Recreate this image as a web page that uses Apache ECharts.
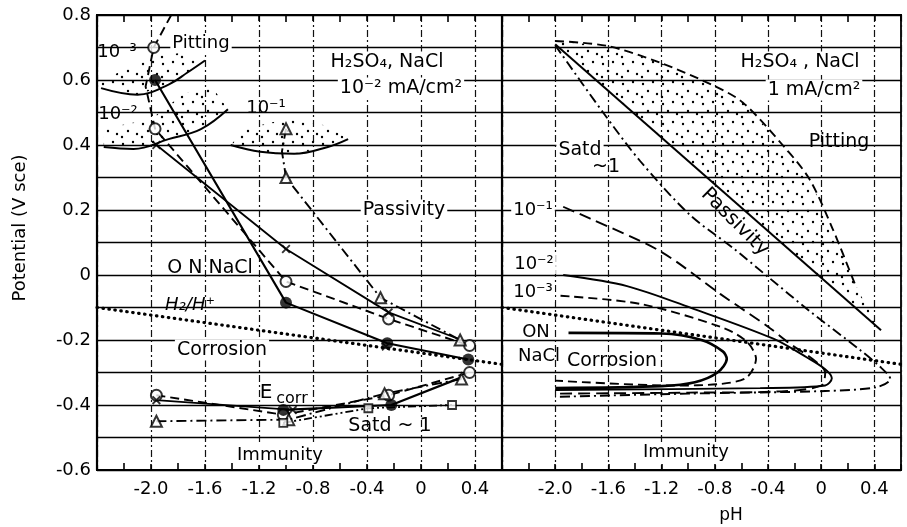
<!DOCTYPE html>
<html><head><meta charset="utf-8">
<script src="https://cdn.jsdelivr.net/npm/echarts@6/dist/echarts.min.js"></script>
<style>html,body{margin:0;padding:0;background:#fff}#c{width:907px;height:527px}</style>
</head><body><div id="c"></div>
<script>
// ---------- tick labels ----------
const xTicks = [-2.0, -1.6, -1.2, -0.8, -0.4, 0, 0.4];
const yTicks = [-0.6, -0.4, -0.2, 0, 0.2, 0.4, 0.6, 0.8];

// ---------- LEFT PANEL (10^-2 mA/cm2) ----------
// pitting-potential curves
const pitOpenLine   = [[-1.85,0.80],[-1.98,0.70],[-2.04,0.58],[-1.97,0.45],[-1.0,-0.02],[-0.24,-0.135],[0.36,-0.217]];
const pitFilledLine = [[-1.97,0.60],[-1.0,-0.085],[-0.25,-0.21],[0.35,-0.26]];
const pitCrossLine  = [[-1.96,0.40],[-1.0,0.08],[-0.24,-0.115],[0.30,-0.20]];
const pitTriLine    = [[-1.0,0.45],[-1.03,0.38],[-1.0,0.30],[-0.30,-0.07],[0.29,-0.20]];
// corrosion-potential curves
const ecorrOpenLine   = [[-1.96,-0.37],[-1.02,-0.43],[-0.24,-0.37],[0.36,-0.30]];
const ecorrCrossLine  = [[-1.96,-0.385],[-0.95,-0.415]];
const ecorrFilledLine = [[-1.02,-0.415],[-0.22,-0.40],[0.30,-0.315]];
const ecorrTriLine    = [[-1.96,-0.45],[-0.98,-0.445],[-0.27,-0.365],[0.30,-0.32]];
const ecorrSquareLine = [[-1.02,-0.455],[-0.39,-0.41],[0.23,-0.40]];
// measured points
const openCircles   = [[-1.98,0.70],[-1.97,0.45],[-1.0,-0.02],[-0.24,-0.135],[0.36,-0.217],[-1.96,-0.37],[-1.02,-0.43],[-0.24,-0.37],[0.36,-0.30]];
const filledCircles = [[-1.97,0.60],[-1.0,-0.085],[-0.25,-0.21],[0.35,-0.26],[-1.02,-0.415],[-0.22,-0.40]];
const crosses       = [[-1.96,0.40],[-1.0,0.08],[-0.24,-0.115],[-0.26,-0.22],[-1.96,-0.385],[-0.95,-0.415]];
const triangles     = [[-1.0,0.45],[-1.0,0.30],[-0.30,-0.07],[0.29,-0.20],[-1.96,-0.45],[-0.98,-0.445],[-0.27,-0.365],[0.30,-0.32]];
const squares       = [[-1.02,-0.455],[-0.39,-0.41],[0.23,-0.40]];
// pitting arcs (10^-3, 10^-2, 10^-1 N NaCl)
const arc3 = [[-2.37,0.575],[-2.1,0.555],[-1.87,0.586],[-1.73,0.623],[-1.6,0.66]];
const arc2 = [[-2.35,0.394],[-2.13,0.388],[-1.87,0.418],[-1.63,0.449],[-1.43,0.51]];
const arc1 = [[-1.41,0.40],[-1.19,0.379],[-0.94,0.373],[-0.69,0.394],[-0.54,0.418]];
const shade3 = [[-2.37,0.575],[-2.1,0.555],[-1.87,0.586],[-1.73,0.623],[-1.6,0.66],[-1.75,0.685],[-1.95,0.675],[-2.2,0.63],[-2.37,0.60]];
const shade2 = [[-2.35,0.394],[-2.13,0.388],[-1.87,0.418],[-1.63,0.449],[-1.43,0.51],[-1.55,0.58],[-1.75,0.56],[-2.0,0.48],[-2.35,0.45]];
const shade1 = [[-1.41,0.40],[-1.19,0.379],[-0.94,0.373],[-0.69,0.394],[-0.54,0.418],[-0.7,0.46],[-1.0,0.48],[-1.3,0.45]];

// ---------- RIGHT PANEL (1 mA/cm2) ----------
const passLine    = [[-2.0,0.71],[0.45,-0.17]];
const pitBoundary = [[-2.0,0.72],[-1.61,0.705],[-1.21,0.653],[-0.81,0.583],[-0.59,0.531],[-0.29,0.40],[-0.09,0.296],[0.085,0.143],[0.265,-0.04]];
const satdCurve   = [[-2.0,0.707],[-1.64,0.50],[-1.36,0.35],[-0.99,0.186],[-0.66,0.082],[-0.39,-0.009],[-0.09,-0.11],[0.29,-0.23],[0.45,-0.285],[0.52,-0.32],[0.42,-0.345],[0.03,-0.357],[-1.0,-0.365],[-2.0,-0.375]];
const curve1      = [[-1.94,0.21],[-1.74,0.174],[-1.21,0.073],[-0.76,-0.058],[-0.39,-0.162],[-0.24,-0.21],[-0.06,-0.26],[0.03,-0.30],[0.0,-0.34],[-0.3,-0.358],[-1.0,-0.362],[-2.0,-0.365]];
const curve2      = [[-1.94,0.0],[-1.46,-0.034],[-0.96,-0.104],[-0.36,-0.196],[-0.11,-0.253],[0.03,-0.29],[0.08,-0.318],[0.03,-0.34],[-0.46,-0.348],[-2.0,-0.354]];
const curve3      = [[-1.96,-0.064],[-1.36,-0.089],[-0.74,-0.162],[-0.56,-0.205],[-0.49,-0.258],[-0.56,-0.315],[-0.75,-0.335],[-1.11,-0.34],[-2.0,-0.325]];
const curve0      = [[-1.9,-0.178],[-1.2,-0.18],[-0.9,-0.2],[-0.74,-0.235],[-0.71,-0.258],[-0.78,-0.30],[-0.95,-0.33],[-1.2,-0.342],[-2.0,-0.348]];
const pitShadeR   = [[-2.0,0.72],[-1.61,0.705],[-1.21,0.653],[-0.81,0.583],[-0.59,0.531],[-0.29,0.40],[-0.09,0.296],[0.085,0.143],[0.265,-0.04],[0.45,-0.17],[-2.0,0.71]];

// ---------- both panels ----------
const h2Line = [[-2.4,-0.10],[0.6,-0.275]];

// ================= rendering =================
const FONT = '"DejaVu Sans", "Liberation Sans", sans-serif';
const LS = {solid:'solid', dash:[9,5], dashDot:[10,4,2,4], dashDotDot:[8,3,2,3,2,3], longDash:[12,6], dot:[0.5,5.5]};

function dotPattern(){
  const c=document.createElement('canvas'); c.width=20; c.height=20;
  const g=c.getContext('2d'); g.fillStyle='#000';
  [[3,4],[13,2],[8,11],[17,14],[2,17]].forEach(p=>{g.beginPath();g.arc(p[0],p[1],1.2,0,Math.PI*2);g.fill();});
  return c;
}
const pattern = dotPattern();

function line(data, g, type, width, smooth){
  return {type:'line', xAxisIndex:g, yAxisIndex:g, data, symbol:'none', smooth: smooth||false,
    lineStyle:{color:'#000', width: width||1.9, type, cap: type===LS.dot?'round':'butt'}, z:3, silent:true, animation:false};
}
function marks(data, g, kind){
  const s={type:'scatter', xAxisIndex:g, yAxisIndex:g, data, z:6, silent:true, animation:false};
  if(kind==='open'){s.symbol='circle';s.symbolSize=11;s.itemStyle={color:'#fff',borderColor:'#000',borderWidth:2};}
  if(kind==='filled'){s.symbol='circle';s.symbolSize=12;s.itemStyle={color:'#000'};}
  if(kind==='tri'){s.symbol='triangle';s.symbolSize=11;s.itemStyle={color:'#fff',borderColor:'#000',borderWidth:2};}
  if(kind==='square'){s.symbol='rect';s.symbolSize=8;s.itemStyle={color:'#fff',borderColor:'#000',borderWidth:1.8};}
  if(kind==='cross'){s.symbol='path://M0,1.5L1.5,0L5,3.5L8.5,0L10,1.5L6.5,5L10,8.5L8.5,10L5,6.5L1.5,10L0,8.5L3.5,5Z';s.symbolSize=9;s.itemStyle={color:'#000'};}
  return s;
}
function shade(poly, g){
  return {type:'custom', xAxisIndex:g, yAxisIndex:g, data:[poly[0]], z:1, silent:true, animation:false,
    renderItem:(p,api)=>({type:'polygon', shape:{points: poly.map(q=>api.coord(q))}, style:{fill:{image:pattern, repeat:'repeat'}}})};
}
function fmtX(v){ const t=xTicks.find(t=>Math.abs(t-v)<1e-6); return t===undefined?'':(t===0?'0':t.toFixed(1)); }
function fmtY(v){ const t=yTicks.find(t=>Math.abs(t-v)<1e-6); return t===undefined?'':(t===0?'0':t.toFixed(1)); }

function xAxis(g, pos){
  return {gridIndex:g, type:'value', min:-2.4, max:0.6, interval:0.4, position:pos,
    axisLine:{show:true, onZero:false, lineStyle:{color:'#000', width:2.2}},
    axisTick:{show:true, inside:true, length:6, lineStyle:{color:'#000',width:1.6}},
    minorTick:{show:true, splitNumber:2, length:7, lineStyle:{color:'#000',width:1.6}},
    axisLabel:{show:pos==='bottom', formatter:fmtX, color:'#000', fontSize:18, fontFamily:FONT, margin:10, showMinLabel:false},
    splitLine:{show:pos==='bottom', lineStyle:{color:'#111', width:1.2, type:[7,3,2,3]}}};
}
function yAxis(g){
  return {gridIndex:g, type:'value', min:-0.6, max:0.8, interval:0.2,
    axisLine:{show:true, onZero:false, lineStyle:{color:'#000', width:2.2}},
    axisTick:{show:false}, minorTick:{show:false, splitNumber:2},
    axisLabel:{show:g===0, formatter:fmtY, color:'#000', fontSize:18, fontFamily:FONT, margin:6},
    splitLine:{show:true, lineStyle:{color:'#000', width:1.4}},
    minorSplitLine:{show:true, lineStyle:{color:'#000', width:1.4}}};
}

function txt(s, x, y, fs, extra){
  const st = {text:s, fill:'#000', fontSize:fs||18, fontFamily:FONT, textAlign:'center', align:'center',
    textVerticalAlign:'middle', verticalAlign:'middle', backgroundColor:'#fff', padding:[1,2]};
  Object.assign(st, extra||{});
  return {type:'text', x, y, z:50, silent:true, style:st};
}

const graphics = [
  // left panel
  txt('Pitting', 201, 43, 18),
  txt('10⁻³', 117, 52, 18, {backgroundColor:null}),
  txt('10⁻²', 118, 114, 18, {backgroundColor:null}),
  txt('10⁻¹', 266, 108, 18, {backgroundColor:null}),
  txt('H₂SO₄, NaCl', 387, 62, 19),
  txt('10⁻² mA/cm²', 401, 88, 19),
  txt('Passivity', 404, 210, 19),
  txt('O N NaCl', 210, 268, 19, {backgroundColor:null}),
  txt('H₂/H⁺', 190, 305, 18, {fontStyle:'italic', backgroundColor:null}),
  txt('Corrosion', 222, 350, 19),
  txt('E', 266, 393, 20, {backgroundColor:null}),
  txt('corr', 292, 399, 16, {backgroundColor:null}),
  txt('Satd ~ 1', 390, 426, 19, {backgroundColor:null}),
  txt('Immunity', 280, 455, 18),
  // right panel
  txt('H₂SO₄ , NaCl', 800, 62, 19),
  txt('1 mA/cm²', 814, 90, 19),
  txt('Pitting', 839, 142, 19, {backgroundColor:null}),
  txt('Satd', 580, 150, 19),
  txt('~1', 606, 167, 19, {backgroundColor:null}),
  {type:'text', x:735, y:222, rotation:-Math.PI/4, z:50, silent:true,
    style:{text:'Passivity', fill:'#000', fontSize:20, fontFamily:FONT, textAlign:'center', align:'center', textVerticalAlign:'middle', verticalAlign:'middle'}},
  txt('10⁻¹', 533, 210, 18),
  txt('10⁻²', 534, 264, 18),
  txt('10⁻³', 533, 292, 18),
  txt('ON', 536, 332, 18, {backgroundColor:null}),
  txt('NaCl', 539, 356, 18, {backgroundColor:null}),
  txt('Corrosion', 612, 361, 19, {backgroundColor:null}),
  txt('Immunity', 686, 452, 18),
  // axis names
  txt('pH', 731, 516, 17, {backgroundColor:null}),
  {type:'text', x:20, y:228, rotation:Math.PI/2, z:50, silent:true,
    style:{text:'Potential (V sce)', fill:'#000', fontSize:18, fontFamily:FONT, textAlign:'center', align:'center', textVerticalAlign:'middle', verticalAlign:'middle'}}
];

const series = [
  shade(shade3,0), shade(shade2,0), shade(shade1,0), shade(pitShadeR,1),
  line(h2Line,0,LS.dot,3.2), line(h2Line,1,LS.dot,3.2),
  line(pitOpenLine,0,LS.dash,1.9), line(pitFilledLine,0,LS.solid,2.1), line(pitCrossLine,0,LS.solid,1.8), line(pitTriLine,0,LS.dashDot,1.9),
  line(ecorrOpenLine,0,LS.dash,1.9), line(ecorrCrossLine,0,LS.solid,1.9), line(ecorrFilledLine,0,LS.solid,2.2),
  line(ecorrTriLine,0,LS.dashDot,1.9), line(ecorrSquareLine,0,LS.dashDotDot,1.8),
  line(arc3,0,LS.solid,2,0.4), line(arc2,0,LS.solid,2,0.4), line(arc1,0,LS.solid,2,0.4),
  marks(openCircles,0,'open'), marks(filledCircles,0,'filled'), marks(crosses,0,'cross'), marks(triangles,0,'tri'), marks(squares,0,'square'),
  line(passLine,1,LS.solid,2), line(pitBoundary,1,LS.dash,1.9,0.3),
  line(satdCurve,1,LS.dashDot,1.9,0.3), line(curve1,1,LS.longDash,1.9,0.3), line(curve2,1,LS.solid,1.9,0.3),
  line(curve3,1,LS.dash,1.9,0.3), line(curve0,1,LS.solid,2.6,0.3)
];

const chart = echarts.init(document.getElementById('c'));
chart.setOption({
  animation:false,
  backgroundColor:'#fff',
  grid:[
    {left:97, right:405, top:15, bottom:57, show:true, borderColor:'#000', borderWidth:1.8, backgroundColor:'transparent'},
    {left:502, right:6, top:15, bottom:57, show:true, borderColor:'#000', borderWidth:1.8, backgroundColor:'transparent'}
  ],
  xAxis:[xAxis(0,'bottom'), xAxis(1,'bottom'), xAxis(0,'top'), xAxis(1,'top')],
  yAxis:[yAxis(0), yAxis(1)],
  series,
  graphic: graphics
});
</script></body></html>
